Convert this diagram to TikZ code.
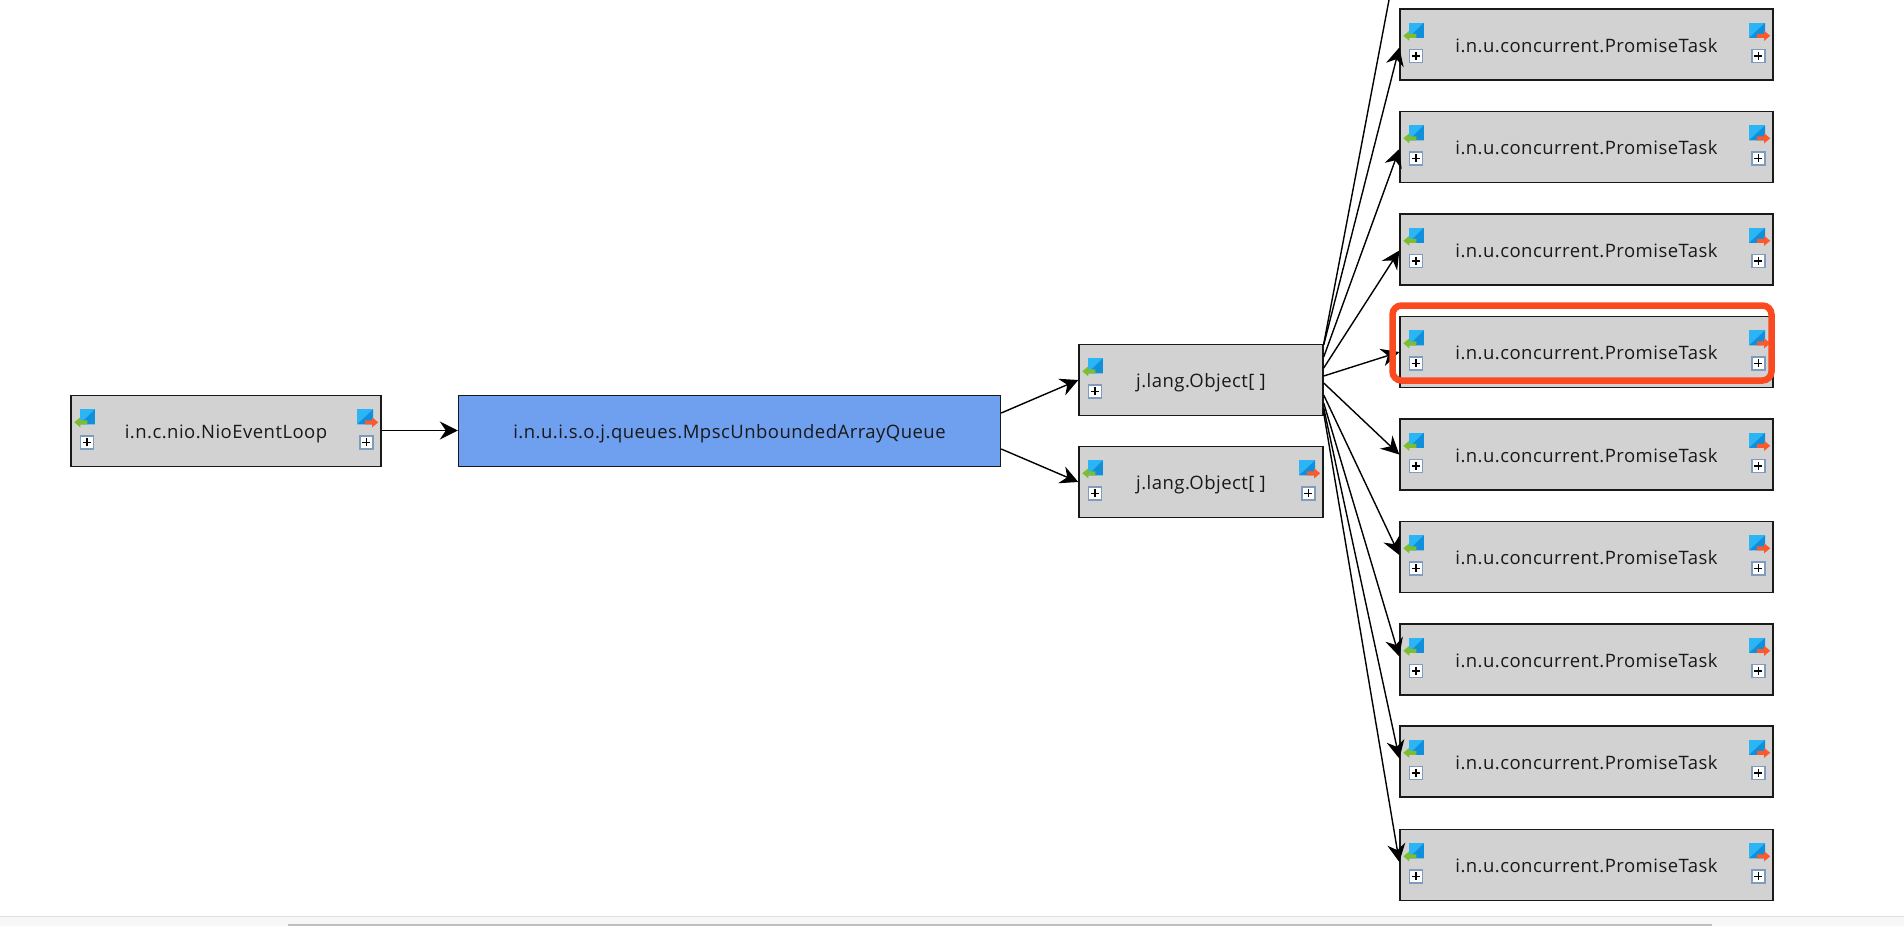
\documentclass[tikz,border=0pt]{standalone}
\usepackage{fontspec}
\setmainfont[LetterSpace=2.5]{Open Sans}
\usetikzlibrary{arrows.meta}
\definecolor{boxgrey}{HTML}{D2D2D2}
\definecolor{boxblue}{HTML}{6F9FEF}
\definecolor{iconlight}{HTML}{2BB5F5}
\definecolor{icondark}{HTML}{0F8FDC}
\definecolor{icongreen}{HTML}{7CBE2E}
\definecolor{iconorange}{HTML}{FB5A2E}
\definecolor{plusframe}{HTML}{7F9CBF}
\definecolor{hilite}{HTML}{FB4A20}
\tikzset{
  objbox/.style={draw=black!90,line width=1.4pt,fill=boxgrey,inner sep=0pt,text height=18pt,text depth=2.6pt,font=\fontsize{18.5}{20}\selectfont,text=black!90},
  promise/.style={objbox,minimum width=373pt,minimum height=71pt},
  arrbox/.style={objbox,minimum width=244pt,minimum height=71pt},
  conn/.style={draw=black,line width=1.4pt,-{Stealth[length=18pt,width=18pt,inset=6pt]},shorten >=0pt},
  plusbox/.style={draw=plusframe,line width=1.6pt,fill=white},
  plussign/.style={draw=black,line width=1.4pt}
}
\newcommand{\plusat}[2]{%
  \path[plusbox] (#1,#2) rectangle ++(13,13);
  \path[plussign] (#1+2.5,#2+6.5) -- ++(8,0) (#1+6.5,#2+2.5) -- ++(0,8);
}
\newcommand{\inicon}[1]{%
  \begin{scope}[shift={(#1.north west)}]
    \fill[iconlight] (9.5,14.5) rectangle (24.5,29.5);
    \fill[icondark] (24.5,14.5) -- (24.5,29.5) -- (9.5,29.5) -- cycle;
    \fill[icongreen] (4,27.5) -- (10,22.5) -- (10,25.5) -- (17,25.5) -- (17,29.5) -- (10,29.5) -- (10,32.5) -- cycle;
    \plusat{10}{41}
  \end{scope}}
\newcommand{\outicon}[1]{%
  \begin{scope}[shift={(#1.north east)}]
    \fill[iconlight] (-24.5,14.5) rectangle (-8.5,29.5);
    \fill[icondark] (-8.5,14.5) -- (-8.5,29.5) -- (-24.5,29.5) -- cycle;
    \fill[iconorange] (-3.5,27.5) -- (-9.5,22.5) -- (-9.5,25.5) -- (-16.5,25.5) -- (-16.5,29.5) -- (-9.5,29.5) -- (-9.5,32.5) -- cycle;
    \plusat{-22}{41}
  \end{scope}}
\begin{document}
\begin{tikzpicture}[x=1pt,y=-1pt]
\clip (0,0) rectangle (1904,926);
\fill[white] (0,0) rectangle (1904,926);
% window strip at the bottom
\fill[black!3] (0,916) rectangle (1904,926);
\fill[black!12] (0,915.5) rectangle (1904,917);
\fill[black!25] (288,924) rectangle (1712,926);
% nodes
\node[objbox,minimum width=310pt,minimum height=71pt] (nio) at (226,431) {i.n.c.nio.NioEventLoop};
\node[objbox,fill=boxblue,minimum width=542pt,minimum height=71pt] (mpsc) at (729.5,431) {i.n.u.i.s.o.j.queues.MpscUnboundedArrayQueue};
\node[arrbox] (oa) at (1201,380) {j.lang.Object[ ]};
\node[arrbox] (ob) at (1201,482) {j.lang.Object[ ]};
\coordinate (off) at (1400,-58);
\foreach \n/\y in {t1/44.5,t2/147,t3/249.5,t4/352,t5/454.5,t6/557,t7/659.5,t8/761.5,t9/865}
  \node[promise] (\n) at (1586.5,\y) {i.n.u.concurrent.PromiseTask};
% icons
\inicon{nio}\outicon{nio}
\inicon{oa}
\inicon{ob}\outicon{ob}
\foreach \n in {t1,t2,t3,t4,t5,t6,t7,t8,t9}{\inicon{\n}\outicon{\n}}
% connectors
\draw[conn] ([yshift=0.5pt]nio.east) -- ([yshift=0.5pt]mpsc.west);
\draw[conn] ([yshift=18pt]mpsc.east) -- (oa.west);
\draw[conn] ([yshift=-18pt]mpsc.east) -- (ob.west);
\draw[conn] ([yshift=36pt]oa.east) -- (off);
\foreach \n/\s/\e in {t1/35/-3,t2/23/-2,t3/12/-1,t4/4/0,t5/-3/0,t6/-15/2,t7/-23/3,t8/-28/3,t9/-33/3}
  \draw[conn] ([yshift=\s pt]oa.east) -- ([yshift=\e pt]\n.west);
% highlight
\draw[hilite,line width=6.5pt,rounded corners=9pt] (1392.5,305.5) rectangle (1771.5,380.5);
\end{tikzpicture}
\end{document}
